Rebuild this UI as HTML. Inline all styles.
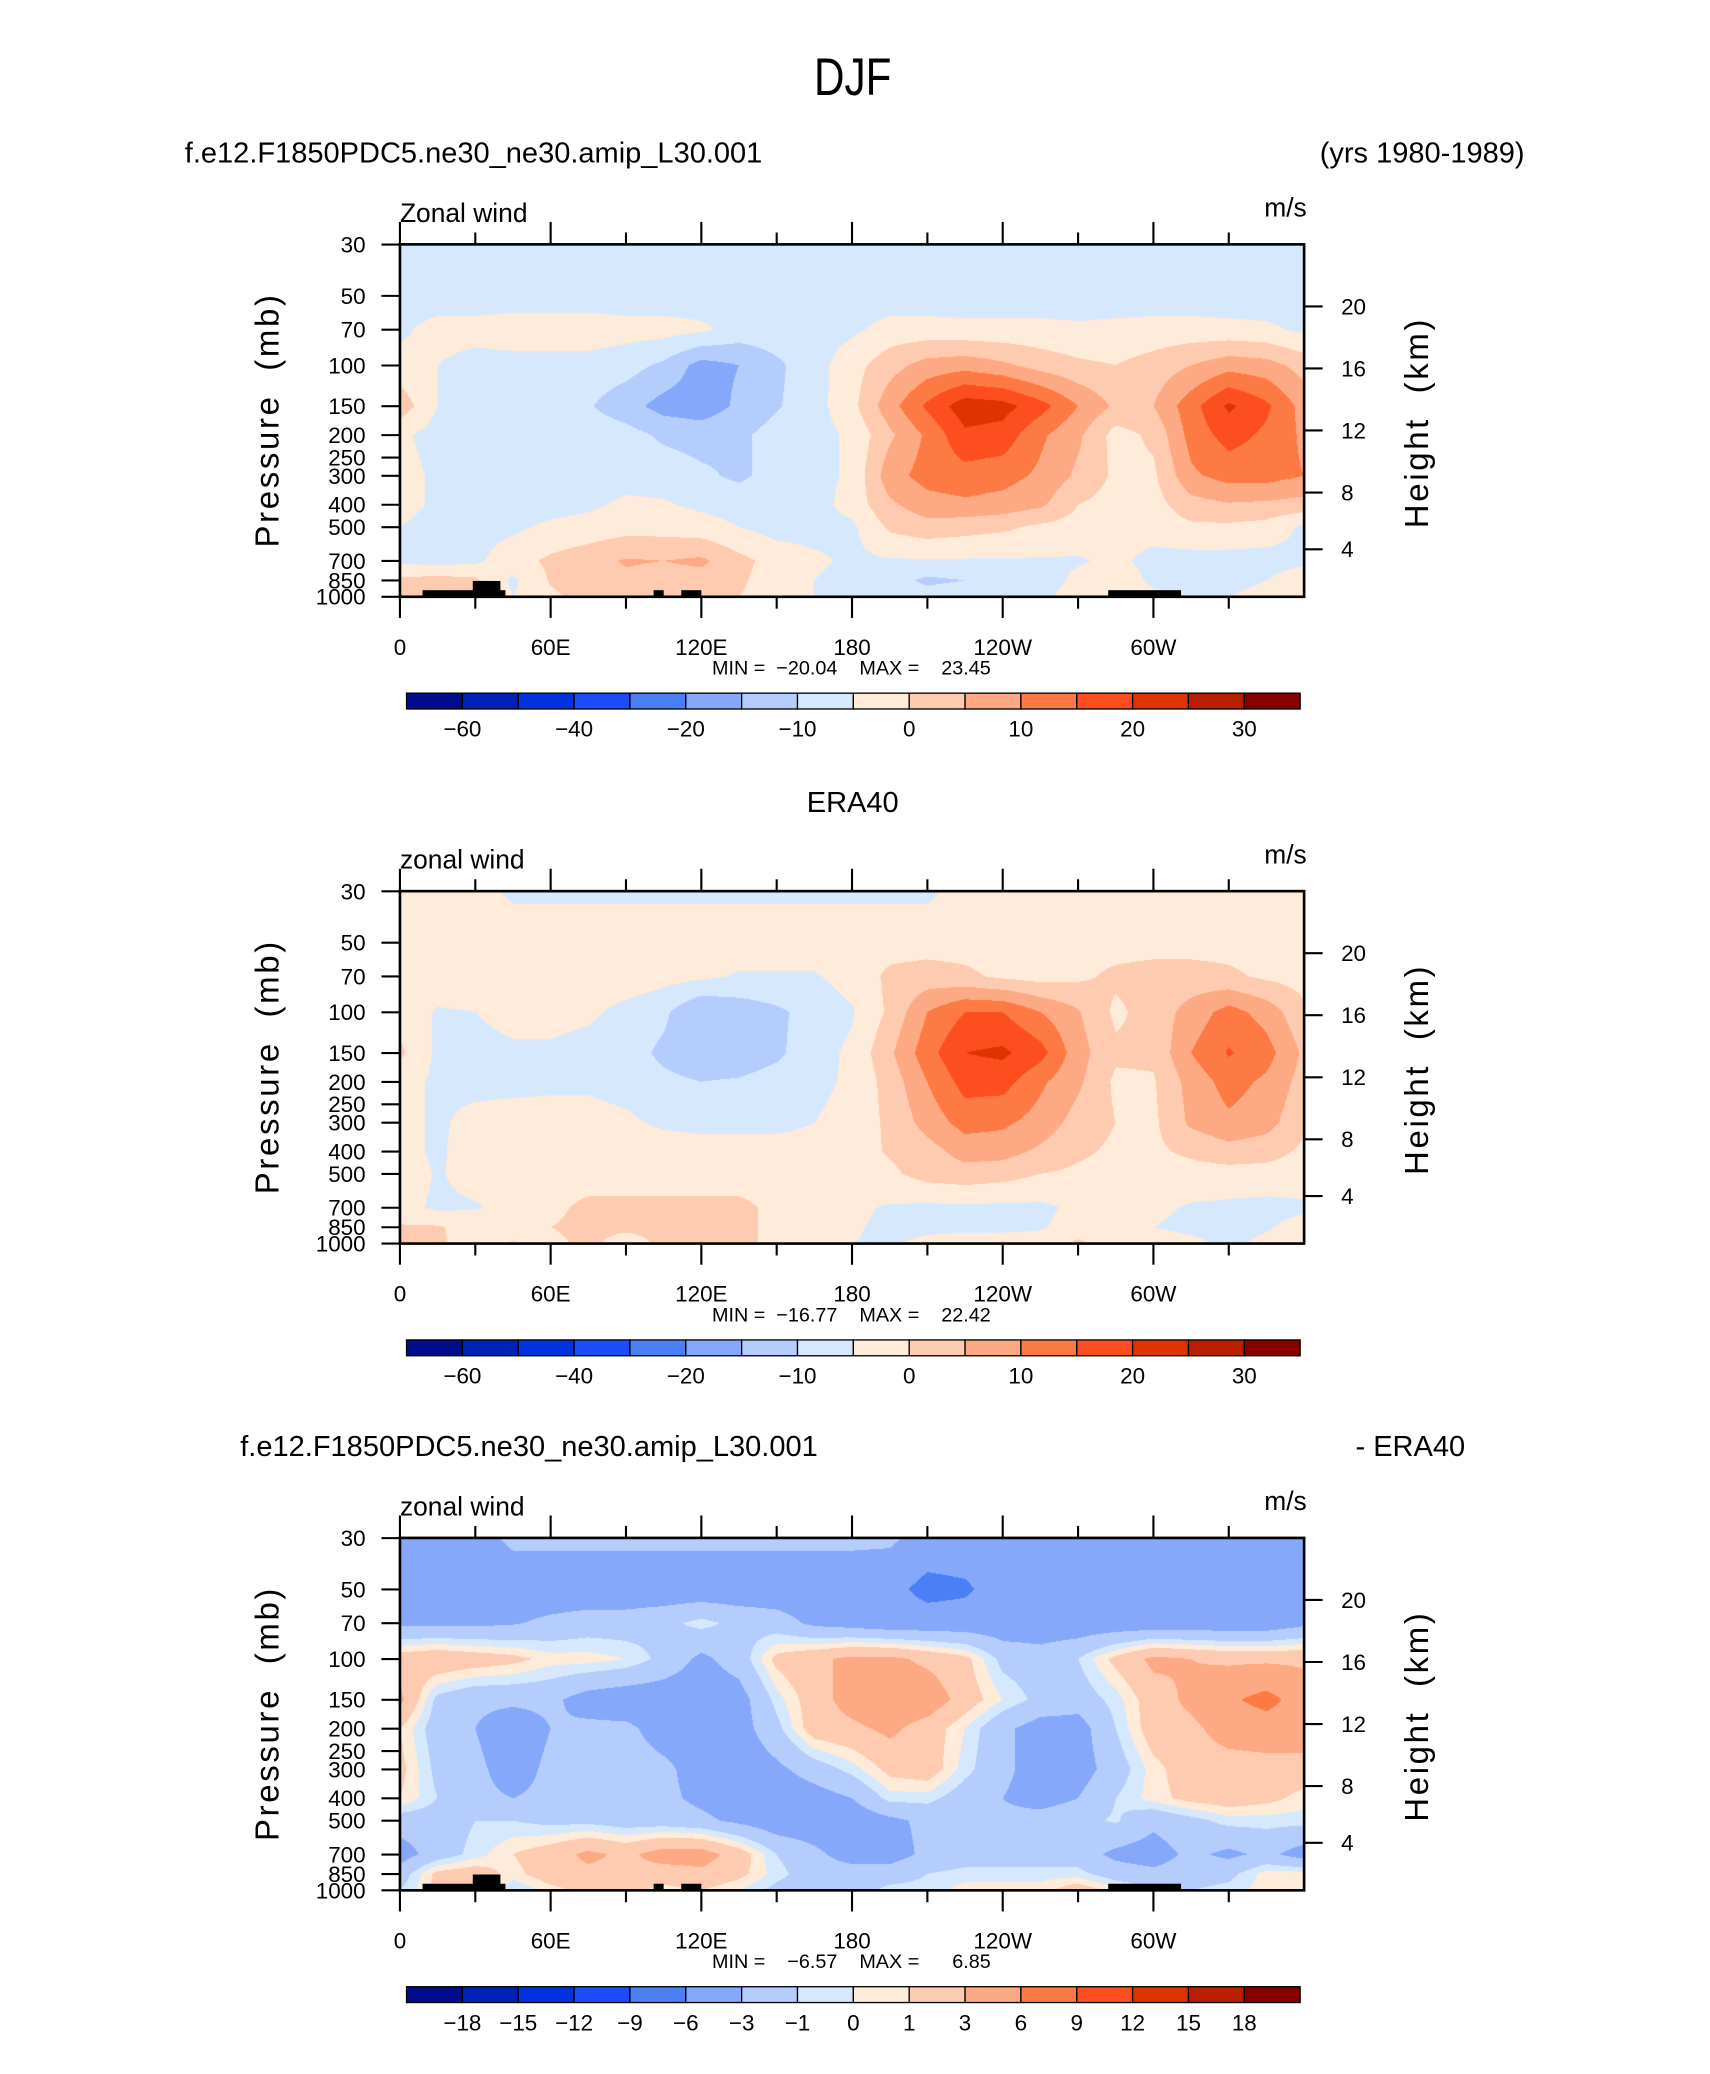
<!DOCTYPE html>
<html><head><meta charset="utf-8">
<style>
html,body{margin:0;padding:0;background:#fff;}
#wrap{position:relative;width:1710px;height:2074px;overflow:hidden;background:#fff;}
canvas{position:absolute;}
svg{position:absolute;left:0;top:0;}
text{font-family:"Liberation Sans",sans-serif;fill:#000;white-space:pre;}
</style></head>
<body>
<div id="wrap">
<canvas id="c0"></canvas>
<canvas id="c1"></canvas>
<canvas id="c2"></canvas>
<svg id="s" width="1710" height="2074" viewBox="0 0 1295.5 1571"></svg>
</div>
<script>
// ---- data ----
const lons = [0,15,30,45,60,75,90,105,120,135,150,165,180,195,210,225,240,255,270,285,300,315,330,345,360];
const pLevels = [30,50,70,100,150,200,300,400,500,700,850,1000];
const modelWind = [
[-8,-8,-8,-8,-8,-8,-8,-8,-8,-8,-8,-8,-8,-8,-8,-8,-8,-8,-8,-8,-8,-8,-8,-8,-8],
[-8,-8,-8,-8,-8,-8,-8,-8,-8,-8,-8,-8,-8,-8,-8,-8,-8,-8,-8,-8,-8,-8,-8,-8,-8],
[-6,-3,-3,-2,-2,-2,-3,-3,-4,-7,-7,-7,-6,-3,-3,-3.5,-3.5,-3.5,-4,-3.5,-3,-3,-3.5,-4,-6],
[-3,-5,-7,-7,-7,-7,-8,-11,-17,-15,-11,-7,-2,3,7,8,6,3,1,0,2,5,8,7,3],
[3,-5,-7,-7,-7,-9.5,-13,-17,-18,-14,-10.5,-7,-1.5,8,16,23,22,17,10,4,5,13,21,16,8],
[-4,-7,-7,-7,-7,-7,-8,-11,-12,-11,-8,-7,-4,4,11,19,18,11,6,-2,1,12,17,14,9],
[-3,-6,-7,-7,-7,-7,-7,-7,-9,-11,-8,-7,-4,8,12,13,12,9,4,-1,-1,9,12,12,10],
[-3,-6,-7,-7,-7,-6,-4,-4.5,-6,-7,-7,-7,-3,4,8,9,8,6,0,-2,-2,3,4.5,4,3],
[-5,-7,-7,-6,-4,-3,-2,-2,-3,-5,-7,-7,-6,1,3,2,1,-1,-2,-3,-3,-1,-1,-2,-6],
[-6,-7,-6,-2,1,3,5.5,5,6,1.5,-2,-4,-6,-5.5,-5.5,-5.5,-5.5,-5.5,-5.5,-4,-6.5,-7,-7,-7,-6],
[1,2,1,-6,0.5,3,4,3,3,1,-3,-5,-7,-8,-11,-10,-7,-7,-4,-2,-6,-7,-7,-5,-2],
[2,3,2,-5,-1,2,3,2,1,0,-3,-5,-7,-7,-8,-7,-7,-6,-3,-2,-4,-6,-5,-3,-2]
];
const era40Wind = [
[-3,-3,-3,-6,-6,-6,-6,-6,-6,-6,-6,-6,-6,-6,-6,-3,-3,-3,-3,-3,-3,-3,-3,-3,-3],
[-2,-2,-2,-2,-2,-2,-2,-2,-2,-2,-2,-2,-2,-2,-2,-2,-2,-2,-2,-2,-2,-2,-2,-2,-2],
[-2,-2,-2,-2,-2,-2,-2,-3,-4,-5.5,-5.5,-5.5,-3,1,2,1,-1,-2,-1,1,2,2,1,-1,-2],
[-2,-5.5,-5,-3,-3,-4,-6.5,-9,-15,-13,-11,-8,-5.5,1,10,15,15,10,5.5,-1,2,7,12,8,1],
[1,-6,-7,-6,-6,-7,-8,-11,-13,-13,-11,-7,-4,4,13,20,21,17,7,1,1,10,15.5,12,4],
[-3,-6,-7,-7,-6.5,-6,-7,-9,-10,-9.5,-8,-6.5,-4,2,10,17,17,11,6,-1,-0.5,7,12,9,3],
[-3,-6,-3,-2,-2,-3,-4,-6,-7,-7,-7,-5,-3,1,7,12,11,8,3,0,-1,6,9,7,1],
[-3,-6,-2,-2,-2,-2,-2,-2,-2,-2,-2,-2,-2,0.5,3,7,7,4,1,-1,-1,1,3,2,-1],
[-2,-5.5,-3,-2,-2,-2,-2,-2,-2,-2,-2,-2,-2,-1,2,3,2,0,-1,-2,-2,-2,-2,-2,-2],
[-3,-6,-5.5,-3,-1,1,1,1,1,1,-1,-3,-4,-5.5,-6,-6,-6,-6,-4,-3,-4,-5.5,-6,-6.5,-6],
[0.5,0.5,-2,-3,0,1,1,1,1,1,-1,-3,-4.5,-6,-6,-6,-6,-5.5,-3,-2,-5,-6,-6,-5.5,-3],
[1,1,-3,-5.5,-1,1,-2,1,1,1,-1,-3,-5,-5.5,-4,-3,-3,-3,1,-3,-3,-4,-6,-4,-3]
];
const diffWind = [
[-4,-4,-4,-2.5,-2.5,-2.5,-2.5,-2.5,-2.5,-2.5,-2.5,-2.5,-2.5,-2.5,-4,-4,-4,-4,-4,-4,-4,-4,-4,-4,-4],
[-4.5,-4.5,-4.5,-4.5,-4.5,-4.5,-4.5,-4.5,-4.5,-4.5,-4.5,-4.5,-4.5,-5,-7,-6.5,-4.5,-4.5,-4.5,-4.5,-4.5,-4.5,-4.5,-4.5,-4.5],
[-3.5,-3.5,-3.5,-3.2,-2.5,-2,-2,-1.5,-0.5,-1.5,-2,-3.5,-4,-4.5,-4.5,-4.5,-4.5,-4.5,-4.5,-4.5,-4.5,-4.5,-4.5,-4.5,-3.5],
[2,2.5,2,1.5,0.5,0.5,0,-1.5,-3.5,-2,1.5,2.5,3.5,3.5,2.5,1.5,-1.5,-2,-1,1.5,3.5,3,2.5,2.5,2.5],
[3.5,-1.5,-2.5,-2.5,-2.5,-4,-4.5,-4.5,-4.5,-4,-0.5,2,4,5,4.5,2,0,-1.5,-2,-0.5,2,3.5,5.5,7,4.5],
[1,-2,-3,-4.5,-3,-2.5,-2.5,-4,-4.5,-4,-1.5,2,2.5,3.5,2,0,-2.5,-4,-4,-1,2,2.5,4,4.5,4.5],
[1.5,-1.5,-2.5,-4,-2.5,-2,-2,-2.5,-4,-4.5,-3.5,-2,-0.5,1.5,2,-0.5,-2.5,-4,-4,-2,0.5,2,2,2,2],
[1,-1,-2.5,-3,-2.5,-2,-2,-2.5,-3.5,-4.5,-4.5,-4,-3,-0.5,-0.5,-2,-3,-4,-3,-1,0.5,1.5,2,1.5,0.5],
[-2,-2,-1,-1,-1.5,-1.5,-2,-2,-2.5,-3.5,-4.5,-4.5,-4.5,-3.5,-2.5,-2.5,-2.5,-2,-1.5,-0.8,-2.5,-1.5,-0.5,-0.5,-0.5],
[-4,-2,-0.5,1,2,3.5,2.5,4,4,2,-1,-2.5,-4,-4,-2.5,-2,-2,-2,-2,-3.5,-4,-2.5,-3.5,-2.5,-4],
[-2,1.5,2,0.5,2,2.5,2.5,2,2.5,1.5,-0.5,-2,-2,-2,-1,-0.5,-0.5,-0.5,-0.5,-2,-2.5,-2,-1.5,0.5,0.5],
[-1,1.5,2.5,-1,0.5,1.5,1.5,0.5,1,0,-1.5,-2,-2,-0.5,-0.5,0.5,0.5,0.5,2,0.5,-1,-1,-0.5,0.5,0.5]
];
const windLevels = [-60,-50,-40,-30,-20,-15,-10,-5,0,5,10,15,20,25,30];
const diffLevels = [-18,-15,-12,-9,-6,-3,-1,0,1,3,6,9,12,15,18];
const windBarLabels = ["-60","","-40","","-20","","-10","","0","","10","","20","","30"];
const diffBarLabels = ["-18","-15","-12","-9","-6","-3","-1","0","1","3","6","9","12","15","18"];
const pressureTicks = [30,50,70,100,150,200,250,300,400,500,700,850,1000];
const heightTicks = [20,16,12,8,4];
const lonLabels = ["0","60E","120E","180","120W","60W"];
const topoLon = [[9,42],[29,40],[101,105],[112,120],[282,311]];
const colors = ["#000c8c","#0021b5","#0033dd","#1a4cf8","#4a7ff5","#85a8fb","#b4cdfc","#d6e8fd","#feebda","#fecbb0","#fda983","#fd7a45","#fc4e1e","#e03400","#b92000","#870000"];

// ---- geometry ----
const S = 1710/1295.5;
const X0 = 303, X1 = 988, PH = 267, K = 76.1;
const panels = [
 {top:185, vals:modelWind, lev:windLevels, lab:windBarLabels, minmax:"MIN =  \u221220.04    MAX =    23.45", topo:true, name:"model"},
 {top:675, vals:era40Wind, lev:windLevels, lab:windBarLabels, minmax:"MIN =  \u221216.77    MAX =    22.42", topo:false, name:"era40"},
 {top:1165, vals:diffWind, lev:diffLevels, lab:diffBarLabels, minmax:"MIN =    \u22126.57    MAX =      6.85", topo:true, name:"difference"}
];
const xOf = lon => X0 + lon*(X1-X0)/360;
const yOf = (p, top) => top + PH - K*Math.log(1000/p);
const uLev = pLevels.map(p => Math.log(1000/p));

function sample(vals, lon, u){
  let i = Math.min(lons.length-2, Math.max(0, Math.floor(lon/15)));
  let fx = (lon - lons[i])/15; fx = Math.max(0,Math.min(1,fx));
  let r = 0;
  while (r < uLev.length-2 && u < uLev[r+1]) r++;
  let fy = (uLev[r]-u)/(uLev[r]-uLev[r+1]); fy = Math.max(0,Math.min(1,fy));
  const a = vals[r][i]*(1-fx)+vals[r][i+1]*fx;
  const b = vals[r+1][i]*(1-fx)+vals[r+1][i+1]*fx;
  return a*(1-fy)+b*fy;
}
function hexToRgb(h){return [parseInt(h.substr(1,2),16),parseInt(h.substr(3,2),16),parseInt(h.substr(5,2),16)];}
const rgb = colors.map(hexToRgb);

panels.forEach((P, k) => {
  const cv = document.getElementById('c'+k);
  const left = Math.round(X0*S), top = Math.round(P.top*S);
  const w = Math.round(X1*S)-left, h = Math.round((P.top+PH)*S)-top;
  cv.width = w; cv.height = h; cv.style.left = left+'px'; cv.style.top = top+'px';
  const ctx = cv.getContext('2d');
  const img = ctx.createImageData(w,h);
  for (let y=0;y<h;y++){
    const yp = (top+y+0.5)/S;
    const u = (P.top+PH - yp)/K;
    for (let x=0;x<w;x++){
      const xp = (left+x+0.5)/S;
      const lon = (xp-X0)*360/(X1-X0);
      const v = sample(P.vals, lon, u);
      let bi = 0; while (bi < P.lev.length && v >= P.lev[bi]) bi++;
      const c = rgb[bi]; const o = (y*w+x)*4;
      img.data[o]=c[0]; img.data[o+1]=c[1]; img.data[o+2]=c[2]; img.data[o+3]=255;
    }
  }
  ctx.putImageData(img,0,0);
});

// ---- SVG overlay ----
const NS = "http://www.w3.org/2000/svg";
const svg = document.getElementById('s');
function el(tag, attrs, parent){const e=document.createElementNS(NS,tag);for(const a in attrs)e.setAttribute(a,attrs[a]);(parent||svg).appendChild(e);return e;}
function txt(str, x, y, size, anchor, parent){const t=el('text',{x:x,y:y,'font-size':size,'text-anchor':anchor||'start'},parent);t.textContent=str;return t;}

let t;
t = txt("DJF", 646, 72, 40, "middle");
t.setAttribute('transform','translate(646,72) scale(0.8,1) translate(-646,-72)');
 
t = txt("f.e12.F1850PDC5.ne30_ne30.amip_L30.001", 140, 123, 22);
 
t = txt("(yrs 1980-1989)", 1155, 123, 22, "end");
 
t = txt("ERA40", 646, 615, 22, "middle");
 
t = txt("f.e12.F1850PDC5.ne30_ne30.amip_L30.001", 182, 1103, 22);
 
t = txt("- ERA40", 1110, 1103, 22, "end");
 

panels.forEach((P, k) => {
  const g = el('g',{});
  
  
  const T = P.top, B = T+PH;
  if (P.topo){
    topoLon.forEach((r,i) => {
      const yy = i===1 ? B-12 : B-5;
      const rr = el('rect',{x:xOf(r[0]),y:yy,width:xOf(r[1])-xOf(r[0]),height:B-yy,fill:'#000'},g);
      
      
    });
  }
  const fr = el('rect',{x:X0,y:T,width:X1-X0,height:PH,fill:'none',stroke:'#000','stroke-width':2},g);
   
  for (let lon=0; lon<360; lon+=30){
    const major = lon%60===0;
    const x = xOf(lon);
    el('line',{x1:x,y1:T,x2:x,y2:T-(major?17:9),stroke:'#000','stroke-width':1.6},g);
    el('line',{x1:x,y1:B,x2:x,y2:B+(major?16:9),stroke:'#000','stroke-width':1.6},g);
  }
  lonLabels.forEach((s,i) => {
    const lt = txt(s, xOf(i*60), B+44, 17, "middle", g);
     
  });
  pressureTicks.forEach(p => {
    const y = yOf(p, T);
    el('line',{x1:X0-14,y1:y,x2:X0,y2:y,stroke:'#000','stroke-width':1.6},g);
    const pt = txt(String(p), X0-26, y+6, 17, "end", g);
     
  });
  const heightY = [232,279,326,373,416];
  heightTicks.forEach((hv,i) => {
    const y = T + heightY[i]-185;
    el('line',{x1:X1,y1:y,x2:X1+14,y2:y,stroke:'#000','stroke-width':1.6},g);
    const ht = txt(String(hv), X1+28, y+6, 17, "start", g);
     
  });
  let at = txt("Pressure  (mb)", 0, 0, 25, "middle", g);
  at.setAttribute('transform', `translate(211,${T+133}) rotate(-90)`);
  at.setAttribute('letter-spacing','2');
   
  at = txt("Height  (km)", 0, 0, 25, "middle", g);
  at.setAttribute('transform', `translate(1082,${T+135}) rotate(-90)`);
  at.setAttribute('letter-spacing','2');
   
  at = txt(k===0?"Zonal wind":"zonal wind", X0, T-17, 20, "start", g);
   
  at = txt("m/s", 990, T-21, 20, "end", g);
   
  at = txt(P.minmax, 645, B+59, 15, "middle", g);
   
  const cb = el('g',{},g);
   
  const cbX = 308, cbW = 677, cbY = B+73, cbH = 12, bw = cbW/16;
  colors.forEach((c,i) => {
    const r = el('rect',{x:cbX+i*bw,y:cbY,width:bw,height:cbH,fill:c,stroke:'#000','stroke-width':1},cb);
     
  });
  P.lab.forEach((s,i) => {
    if (!s) return;
    const lt = txt(s.replace('-','\u2212'), cbX+(i+1)*bw, cbY+33, 17, "middle", cb);
     
  });
});
</script>
</body></html>
